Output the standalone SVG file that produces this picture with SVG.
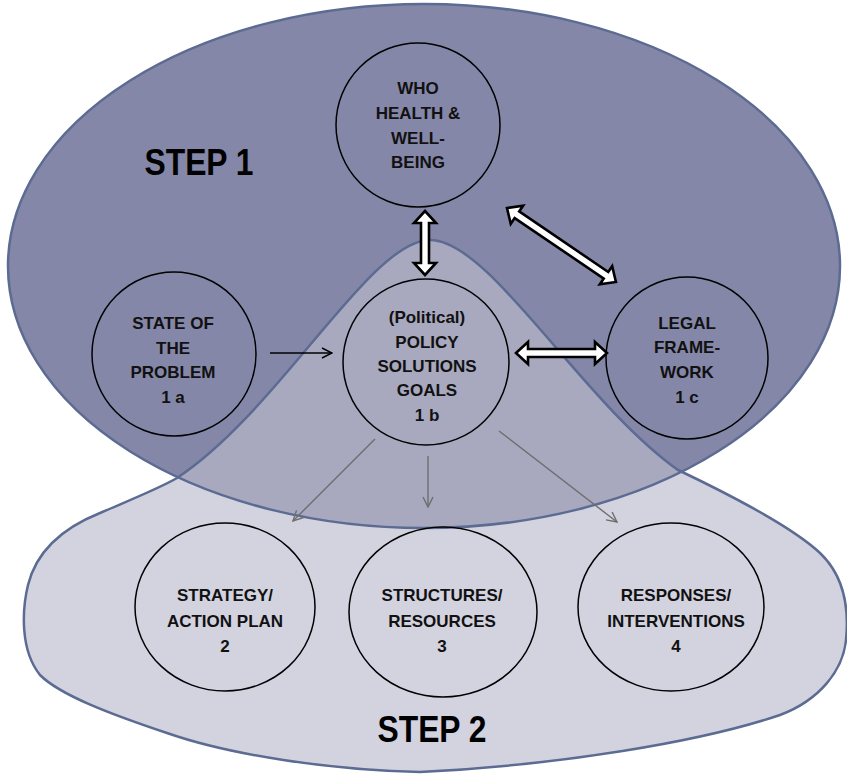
<svg xmlns="http://www.w3.org/2000/svg" width="847" height="777" viewBox="0 0 847 777">
<style>
.t{font-family:"Liberation Sans",Arial,sans-serif;font-weight:bold;font-size:17px;fill:#111;text-anchor:middle}
.big{font-family:"Liberation Sans",Arial,sans-serif;font-weight:bold;font-size:37px;fill:#000;text-anchor:middle}
.node{fill:none;stroke:#000;stroke-width:1.5}
.outline{fill:none;stroke:#5b6b92;stroke-width:2.5}
.blk{fill:#fff;stroke:#000;stroke-width:2.6;stroke-linejoin:miter}
.thin{fill:none;stroke:#000;stroke-width:1.4}
.gray{fill:none;stroke:#6e6e6e;stroke-width:1.4}
</style>
<defs>
<path id="blobPath" d="M420 772 C330 770 230 755 167 733 C110 714 60 695 40 675 C20 650 22 610 28 585 C38 545 70 525 100 513 C130 500 160 488 177 478 C280 410 370 240 430 240 C490 240 580 400 678 470 C720 490 790 525 820 553 C840 572 850 600 846 640 C843 670 820 700 780 715 C700 742 560 765 420 772 Z"/>
<clipPath id="ellClip"><ellipse cx="424" cy="266" rx="416" ry="262"/></clipPath>
<marker id="openArrow" viewBox="0 0 12 12" refX="11" refY="6" markerWidth="12" markerHeight="12" markerUnits="userSpaceOnUse" orient="auto"><path d="M1 1 L11 6 L1 11" fill="none" stroke="#000" stroke-width="1.4"/></marker>
<marker id="grayArrow" viewBox="0 0 12 12" refX="11" refY="6" markerWidth="12" markerHeight="12" markerUnits="userSpaceOnUse" orient="auto"><path d="M1 1 L11 6 L1 11" fill="none" stroke="#6e6e6e" stroke-width="1.4"/></marker>
</defs>
<rect width="847" height="777" fill="#fff"/>
<g id="regions">
<ellipse cx="424" cy="266" rx="416" ry="262" fill="#8587a8"/>
<use href="#blobPath" fill="#d3d3e0"/>
<use href="#blobPath" fill="#a8a9bf" clip-path="url(#ellClip)"/>
<ellipse class="outline" cx="424" cy="266" rx="416" ry="262"/>
<use href="#blobPath" class="outline"/>
<text class="big" x="199" y="175" textLength="109" lengthAdjust="spacingAndGlyphs">STEP 1</text>
<text class="big" x="432" y="742" textLength="109" lengthAdjust="spacingAndGlyphs">STEP 2</text>
</g>
<g id="who">
<circle class="node" cx="418" cy="125" r="82"/>
<text class="t" x="418" y="94">WHO</text>
<text class="t" x="418" y="119">HEALTH &amp;</text>
<text class="t" x="418" y="144">WELL-</text>
<text class="t" x="418" y="168">BEING</text>
</g>
<g id="state">
<circle class="node" cx="174" cy="354" r="82"/>
<text class="t" x="173" y="329">STATE OF</text>
<text class="t" x="173" y="354">THE</text>
<text class="t" x="173" y="378">PROBLEM</text>
<text class="t" x="173" y="403">1 a</text>
</g>
<g id="policy">
<circle class="node" cx="426" cy="362" r="83"/>
<text class="t" x="427" y="323">(Political)</text>
<text class="t" x="427" y="348">POLICY</text>
<text class="t" x="427" y="372">SOLUTIONS</text>
<text class="t" x="427" y="396">GOALS</text>
<text class="t" x="427" y="421">1 b</text>
</g>
<g id="legal">
<circle class="node" cx="687" cy="358" r="81"/>
<text class="t" x="687" y="329">LEGAL</text>
<text class="t" x="687" y="353">FRAME-</text>
<text class="t" x="687" y="378">WORK</text>
<text class="t" x="687" y="403">1 c</text>
</g>
<g id="strategy">
<ellipse class="node" cx="225" cy="607" rx="90" ry="84"/>
<text class="t" x="225" y="601">STRATEGY/</text>
<text class="t" x="225" y="627">ACTION PLAN</text>
<text class="t" x="225" y="652">2</text>
</g>
<g id="structures">
<ellipse class="node" cx="443" cy="612" rx="94" ry="85"/>
<text class="t" x="442" y="601">STRUCTURES/</text>
<text class="t" x="442" y="627">RESOURCES</text>
<text class="t" x="442" y="652">3</text>
</g>
<g id="responses">
<ellipse class="node" cx="671" cy="607" rx="93" ry="84"/>
<text class="t" x="676" y="601">RESPONSES/</text>
<text class="t" x="676" y="627">INTERVENTIONS</text>
<text class="t" x="676" y="652">4</text>
</g>
<g id="connectors">
<line class="thin" x1="270" y1="353" x2="332" y2="353" marker-end="url(#openArrow)"/>
<line class="gray" x1="375" y1="439" x2="293" y2="521" marker-end="url(#grayArrow)"/>
<line class="gray" x1="428" y1="456" x2="428" y2="507" marker-end="url(#grayArrow)"/>
<line class="gray" x1="499" y1="431" x2="617" y2="522" marker-end="url(#grayArrow)"/>
<path class="blk" transform="translate(425,211) rotate(90)" d="M0 0 L12 -11 L12 -4 L52 -4 L52 -11 L64 0 L52 11 L52 4 L12 4 L12 11 Z"/>
<path class="blk" transform="translate(507,208) rotate(34.2)" d="M0 0 L12 -11 L12 -4 L119.7 -4 L119.7 -11 L131.7 0 L119.7 11 L119.7 4 L12 4 L12 11 Z"/>
<path class="blk" transform="translate(516,353)" d="M0 0 L12 -11 L12 -4 L79 -4 L79 -11 L91 0 L79 11 L79 4 L12 4 L12 11 Z"/>
</g>
</svg>
